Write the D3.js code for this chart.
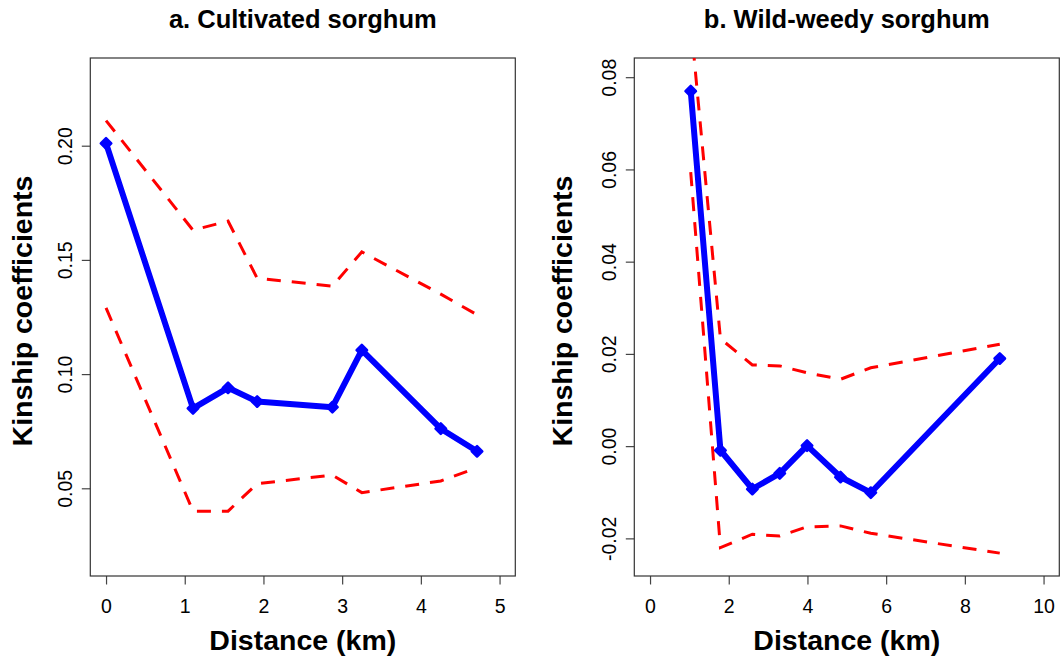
<!DOCTYPE html>
<html>
<head>
<meta charset="utf-8">
<script src="https://cdn.jsdelivr.net/npm/d3@7"></script>
<style>
    body { margin: 0; background: #fff; }
    svg { display: block; font-family: "Liberation Sans", Arial, Helvetica, sans-serif; }
    .tick-label { font-size: 19.5px; fill: #000; }
    .title { font-size: 25.5px; font-weight: bold; }
    .axis-label { font-size: 28.5px; font-weight: bold; }
</style>
</head>
<body>
<div id="chart"></div>
<script>
// a. Cultivated sorghum
const cultDist  = [0, 1.105, 1.55, 1.92, 2.876, 3.25, 4.253, 4.714];
const cultKin   = [0.201, 0.085, 0.094, 0.088, 0.0855, 0.1105, 0.0761, 0.0662];
const cultUpper = [0.211, 0.163, 0.167, 0.142, 0.1385, 0.1535, 0.135, 0.126];
const cultLower = [0.129, 0.040, 0.040, 0.052, 0.0558, 0.0481, 0.0532, 0.059];
const cultXTicks = [0, 1, 2, 3, 4, 5];
const cultYTicks = [0.05, 0.10, 0.15, 0.20];

// b. Wild-weedy sorghum
const wildDist  = [1.034, 1.789, 2.60, 3.296, 3.99, 4.84, 5.61, 8.887];
const wildKin   = [0.077, -0.0009, -0.0093, -0.0059, 0.0001, -0.0067, -0.0101, 0.0190];
const wildUpper = [0.092, 0.0233, 0.0176, 0.0174, 0.0159, 0.0145, 0.0170, 0.0221];
const wildLower = [0.0594, -0.022, -0.0191, -0.0195, -0.0175, -0.0173, -0.0189, -0.0232];
const wildXTicks = [0, 2, 4, 6, 8, 10];
const wildYTicks = [-0.02, 0.00, 0.02, 0.04, 0.06, 0.08];

const svg = d3.select("#chart")
    .append("svg")
    .attr("width", 1060)
    .attr("height", 660);

// R style axis limits: pad the range by 4%
function pad(lim) {
    const d = (lim[1] - lim[0]) * 0.04;
    return [lim[0] - d, lim[1] + d];
}

// plain hyphen minus, like R
const fmt2 = v => v.toFixed(2);

const panels = [
    {
        id: "a", title: "a. Cultivated sorghum",
        left: 90.3, ylabelX: 32,
        xlim: [0, 5], ylim: [0.02, 0.23],
        dist: cultDist, kin: cultKin, upper: cultUpper, lower: cultLower,
        xTicks: cultXTicks, yTicks: cultYTicks
    },
    {
        id: "b", title: "b. Wild-weedy sorghum",
        left: 634.3, ylabelX: 572,
        xlim: [0, 10], ylim: [-0.024, 0.08],
        dist: wildDist, kin: wildKin, upper: wildUpper, lower: wildLower,
        xTicks: wildXTicks, yTicks: wildYTicks
    }
];

const boxTop = 58, boxW = 425, boxH = 518;

panels.forEach(p => {
    const g = svg.append("g").attr("transform", `translate(${p.left},${boxTop})`);

    const x = d3.scaleLinear().domain(pad(p.xlim)).range([0, boxW]);
    const y = d3.scaleLinear().domain(pad(p.ylim)).range([boxH, 0]);

    g.append("clipPath").attr("id", "clip-" + p.id)
        .append("rect").attr("width", boxW).attr("height", boxH);

    // Axes
    const xAxis = g.append("g")
        .attr("transform", `translate(0,${boxH})`)
        .call(d3.axisBottom(x).tickValues(p.xTicks).tickSize(8.5)
            .tickFormat(d => String(d)));
    const yAxis = g.append("g")
        .call(d3.axisLeft(y).tickValues(p.yTicks).tickSize(8.5)
            .tickFormat(fmt2));

    [xAxis, yAxis].forEach(a => {
        a.attr("font-family", null).attr("font-size", null);
        a.select(".domain").remove();
        a.selectAll(".tick line").attr("stroke", "#444").attr("stroke-width", 1.2);
        a.selectAll("text").attr("class", "tick-label");
    });
    xAxis.selectAll("text").attr("dy", null).attr("y", 37);
    yAxis.selectAll("text")
        .attr("x", null).attr("dy", null)
        .attr("text-anchor", "middle")
        .attr("transform", "translate(-18,0) rotate(-90)");

    // Box
    g.append("rect")
        .attr("width", boxW).attr("height", boxH)
        .attr("fill", "none").attr("stroke", "#333").attr("stroke-width", 1.2);

    const line = d3.line().x(d => x(d[0])).y(d => y(d[1]));
    const plot = g.append("g").attr("clip-path", `url(#clip-${p.id})`);

    [p.upper, p.lower].forEach(band => {
        plot.append("path")
            .datum(p.dist.map((d, i) => [d, band[i]]))
            .attr("d", line)
            .attr("fill", "none")
            .attr("stroke", "#ff0000")
            .attr("stroke-width", 3)
            .attr("stroke-dasharray", "14,11");
    });

    const pts = p.dist.map((d, i) => [d, p.kin[i]]);
    plot.append("path")
        .datum(pts)
        .attr("d", line)
        .attr("fill", "none")
        .attr("stroke", "#0000ff")
        .attr("stroke-width", 6)
        .attr("stroke-linejoin", "round");

    plot.selectAll(".pt")
        .data(pts)
        .enter()
        .append("path")
        .attr("class", "pt")
        .attr("d", d3.symbol(d3.symbolSquare, 55))
        .attr("transform", d => `translate(${x(d[0])},${y(d[1])}) rotate(45)`)
        .attr("fill", "#0000ff")
        .attr("stroke", "#0000ff")
        .attr("stroke-width", 2.5)
        .attr("stroke-linejoin", "round");

    // Labels
    g.append("text")
        .attr("class", "title")
        .attr("text-anchor", "middle")
        .attr("x", boxW / 2)
        .attr("y", 28 - boxTop)
        .text(p.title);

    g.append("text")
        .attr("class", "axis-label")
        .attr("text-anchor", "middle")
        .attr("x", boxW / 2)
        .attr("y", 650 - boxTop)
        .text("Distance (km)");

    g.append("text")
        .attr("class", "axis-label")
        .attr("text-anchor", "middle")
        .attr("transform", `translate(${p.ylabelX - p.left},${311 - boxTop}) rotate(-90)`)
        .text("Kinship coefficients");
});
</script>
</body>
</html>
